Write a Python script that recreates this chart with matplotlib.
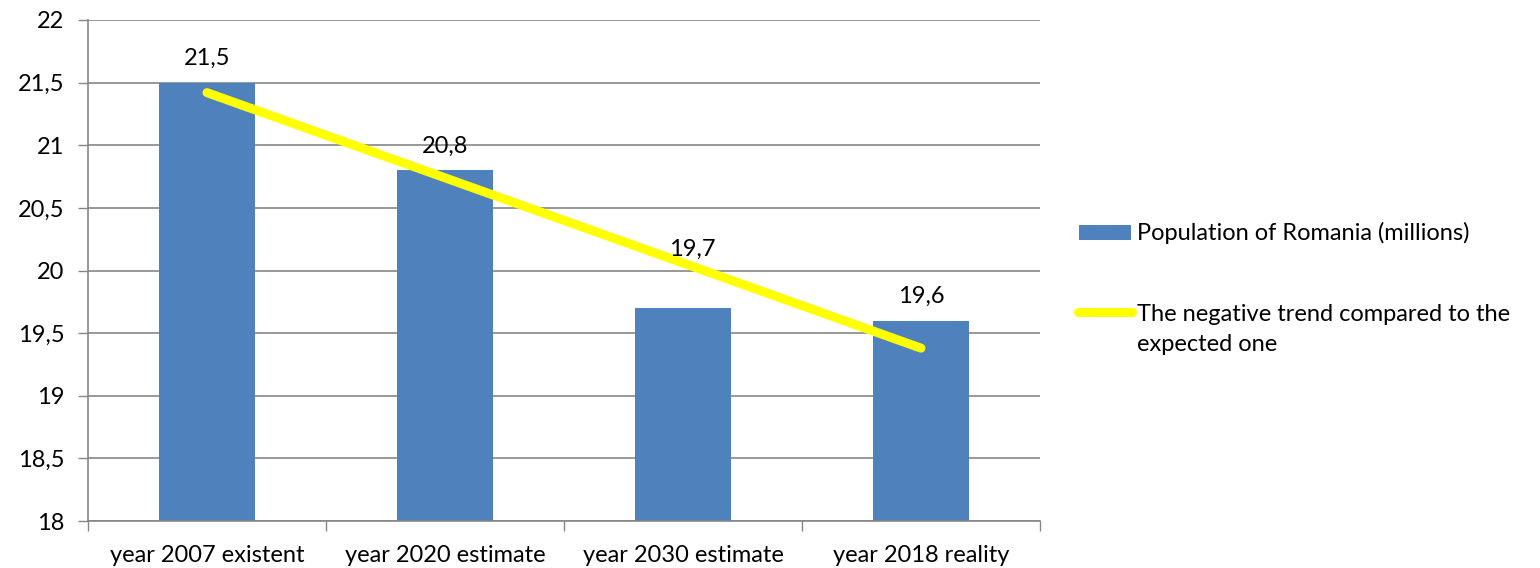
import matplotlib
matplotlib.use("Agg")
import matplotlib.pyplot as plt
from matplotlib.patches import Rectangle
from matplotlib.lines import Line2D

categories = ["year 2007 existent", "year 2020 estimate", "year 2030 estimate", "year 2018 reality"]
population = [21.5, 20.8, 19.7, 19.6]
value_labels = ["21,5", "20,8", "19,7", "19,6"]
trend_x = [0, 3]
trend_y = [21.42, 19.38]
yticks = [18, 18.5, 19, 19.5, 20, 20.5, 21, 21.5, 22]
ytick_labels = ["18", "18,5", "19", "19,5", "20", "20,5", "21", "21,5", "22"]
bar_label = "Population of Romania (millions)"
trend_label = "The negative trend compared to the\nexpected one"

# label placement offsets (points) - style only
label_offsets = [(0, 17.2), (0, 17.2), (6.5, 42.5), (0, 17.2)]

plt.rcParams['font.family'] = ['Lato', 'DejaVu Sans']
BLUE = "#4F81BD"
YELLOW = "#FFFF00"
GRID = "#868686"
FS = 17

fig = plt.figure(figsize=(15.4, 5.68), dpi=100)
ax = fig.add_axes([88/1540, 47/568, 952/1540, 501/568])

x = list(range(len(categories)))
ax.bar(x, population, width=0.4, color=BLUE, zorder=2)
ax.plot(trend_x, trend_y, color=YELLOW, lw=6.5, solid_capstyle='round', zorder=3)
for xi, v, lab, off in zip(x, population, value_labels, label_offsets):
    ax.annotate(lab, (xi, v), xytext=off, textcoords='offset points',
                ha='center', va='center', fontsize=FS, color='black', zorder=4)

ax.set_xlim(-0.5, 3.5)
ax.set_ylim(18, 22)
ax.set_yticks(yticks)
ax.set_yticklabels(ytick_labels, fontsize=FS)
ax.set_xticks(x)
ax.set_xticklabels(categories, fontsize=FS)
ax.set_xticks([-0.5, 0.5, 1.5, 2.5, 3.5], minor=True)
ax.tick_params(axis='x', which='major', length=0, pad=17)
ax.tick_params(axis='x', which='minor', length=7, color=GRID, width=1)
ax.tick_params(axis='y', which='major', length=7, color=GRID, width=1, pad=10)
ax.yaxis.grid(True, color=GRID, lw=1.2, zorder=0)
ax.set_axisbelow(True)
for s in ['top', 'right']:
    ax.spines[s].set_visible(False)
for s in ['left', 'bottom']:
    ax.spines[s].set_color(GRID)
    ax.spines[s].set_linewidth(1.2)

# custom legend (figure pixel coordinates converted to fraction)
W, H = 1540, 568
fig.patches.append(Rectangle((1079/W, 1 - 240/H), 52/W, 15/H, transform=fig.transFigure,
                             facecolor=BLUE, edgecolor='none'))
fig.text(1137/W, 1 - 233/H, bar_label, fontsize=FS, va='center', ha='left')
fig.lines.append(Line2D([1078/W, 1132/W], [1 - 312/H, 1 - 312/H], transform=fig.transFigure,
                        color=YELLOW, lw=6.5, solid_capstyle='round'))
fig.text(1137/W, 1 - 304/H, trend_label, fontsize=FS, va='top', ha='left', linespacing=1.55)

fig.savefig("out.png", dpi=100, facecolor='white')
